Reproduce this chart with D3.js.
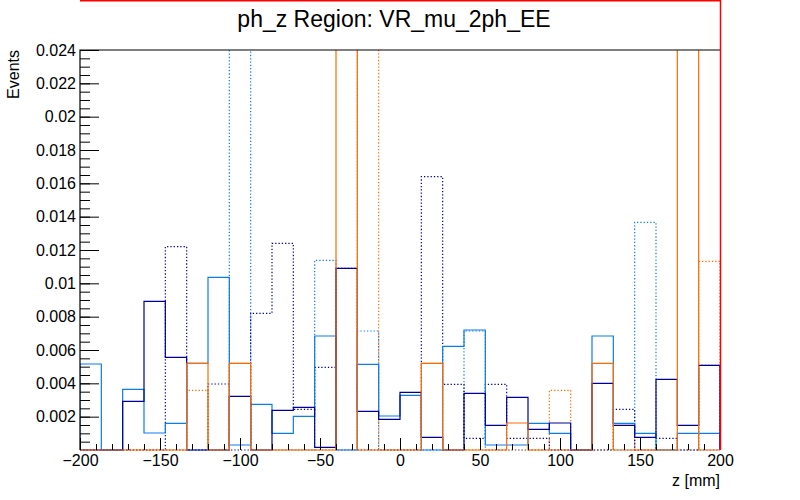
<!DOCTYPE html>
<html lang="en">
<head>
<meta charset="UTF-8">
<title>ph_z Region: VR_mu_2ph_EE</title>
<script src="https://d3js.org/d3.v7.min.js"></script>
<style>
  body { margin: 0; background: #fff; }
  text { font-family: "Liberation Sans", Arial, Helvetica, sans-serif; }
</style>
</head>
<body>
<div id="chart"></div>
<script>
// binning of the histograms: 30 bins from -200 to 200 mm
const xMin = -200, xMax = 200, nBins = 30;

// bin contents (0.03 = runs off the top of the frame)
const azureSolid  = [0.00516, 0, 0.00364, 0.00102, 0.0016, 0.0052, 0.01036, 0.0003, 0.00274, 0.001,
                     0.00202, 0.00684, 0, 0.00514, 0.00204, 0.00328, 0, 0.00622, 0.0072, 0.0003,
                     0.0003, 0.0016, 0.001, 0, 0.00684, 0.0016, 0.001, 0, 0.001, 0.001];
const azureDotted = [0, 0, 0, 0, 0, 0, 0, 0.03, 0, 0,
                     0, 0.01138, 0, 0.00714, 0, 0, 0, 0, 0.00714, 0,
                     0, 0, 0, 0, 0, 0, 0.01366, 0, 0, 0];
const navySolid   = [0, 0, 0.00292, 0.00892, 0.00556, 0, 0, 0.00322, 0, 0.00238,
                     0.00256, 0.00016, 0.0109, 0.00232, 0.00184, 0.00346, 0.00076, 0, 0.0034, 0.00148,
                     0.00316, 0.00124, 0.00162, 0, 0.004, 0.00148, 0.00076, 0.00424, 0.00148, 0.00508];
const navyDotted  = [0, 0, 0, 0, 0.0122, 0, 0.00396, 0, 0.0082, 0.0124,
                     0.00244, 0.00496, 0.0109, 0, 0, 0, 0.0164, 0.00394, 0.0007, 0.00394,
                     0.0007, 0.0007, 0, 0, 0, 0.00244, 0, 0.0007, 0, 0.00508];
const orangeSolid = [0, 0, 0, 0, 0, 0.0052, 0, 0.0052, 0, 0,
                     0, 0, 0.03, 0, 0, 0, 0.0052, 0, 0, 0,
                     0.00162, 0, 0, 0, 0.0052, 0, 0, 0, 0.03, 0];
const orangeDotted= [0, 0, 0, 0, 0, 0.00358, 0, 0.0052, 0, 0,
                     0, 0, 0, 0.03, 0, 0, 0.0052, 0, 0, 0,
                     0, 0, 0.00358, 0, 0, 0.00148, 0, 0, 0, 0.01132];

const yMajor = [0.002, 0.004, 0.006, 0.008, 0.01, 0.012, 0.014, 0.016, 0.018, 0.02, 0.022, 0.024];
const xMajor = [-200, -150, -100, -50, 0, 50, 100, 150, 200];

const width = 800, height = 500;
const padL = 80, padR = 720, padT = 50, padB = 450;

const svg = d3.select("#chart").append("svg")
  .attr("width", width).attr("height", height);

const x = d3.scaleLinear().domain([xMin, xMax]).range([padL, padR]);
const y = d3.scaleLinear().domain([0, 0.024]).range([padB, padT]);

const binW = (xMax - xMin) / nBins;

svg.append("clipPath").attr("id", "frame")
  .append("rect").attr("x", padL).attr("y", padT)
  .attr("width", padR - padL).attr("height", padB - padT + 1);

// step outline like ROOT "hist"
function stepPath(vals) {
  let d = "M" + x(xMin) + "," + y(0);
  vals.forEach((v, i) => {
    const x0 = x(xMin + i * binW), x1 = x(xMin + (i + 1) * binW);
    d += "L" + x0 + "," + y(v) + "L" + x1 + "," + y(v);
  });
  d += "L" + x(xMax) + "," + y(0);
  return d;
}

const series = [
  { vals: azureDotted,  color: "#0a7cf0", dash: "1.3,2" },
  { vals: navyDotted,   color: "#000099", dash: "1.3,2" },
  { vals: orangeDotted, color: "#ff6a00", dash: "1.3,2" },
  { vals: azureSolid,   color: "#0a7cf0", dash: null },
  { vals: navySolid,    color: "#000099", dash: null },
  { vals: orangeSolid,  color: "#ff6a00", dash: null }
];

const plot = svg.append("g").attr("clip-path", "url(#frame)");
series.forEach(s => {
  plot.append("path")
    .attr("d", stepPath(s.vals))
    .attr("fill", "none")
    .attr("stroke", s.color)
    .attr("stroke-width", 1.2)
    .attr("stroke-dasharray", s.dash);
});

// frame
svg.append("path")
  .attr("d", `M${padL},${padB}V${padT}H${padR}`)
  .attr("fill", "none").attr("stroke", "#000").attr("stroke-width", 1.2);

// y axis
const yMinor = d3.range(1, 49).map(i => i * 0.0005);
svg.append("g").attr("transform", `translate(${padL},0)`)
  .call(d3.axisLeft(y).tickValues(yMinor).tickSize(-10).tickFormat(""))
  .call(g => g.select(".domain").remove());
svg.append("g").attr("transform", `translate(${padL},0)`)
  .call(d3.axisLeft(y).tickValues(yMajor).tickSize(-19).tickPadding(4)
    .tickFormat(d => String(+d.toFixed(3))))
  .call(g => g.select(".domain").remove())
  .call(g => g.selectAll("text").attr("font-size", 16).attr("fill", "#000")
    .style("font-family", "'Liberation Sans', Arial, sans-serif"));

// x axis
const xMinor = d3.range(-190, 200, 10);
svg.append("g").attr("transform", `translate(0,${padB})`)
  .call(d3.axisBottom(x).tickValues(xMinor).tickSize(-6).tickFormat(""))
  .call(g => g.select(".domain").remove());
svg.append("g").attr("transform", `translate(0,${padB})`)
  .call(d3.axisBottom(x).tickValues(xMajor).tickSize(-12).tickPadding(5))
  .call(g => g.select(".domain").remove())
  .call(g => g.selectAll("text").attr("font-size", 16).attr("fill", "#000")
    .style("font-family", "'Liberation Sans', Arial, sans-serif"));
svg.selectAll(".tick line").attr("stroke", "#000");

// red border pieces
svg.append("path")
  .attr("d", `M${padL},0.75H${padR + 0.5}V${padB}`)
  .attr("fill", "none").attr("stroke", "#ff0000").attr("stroke-width", 1.5);

// titles
svg.append("text")
  .attr("x", 394).attr("y", 27)
  .attr("text-anchor", "middle").attr("font-size", 23)
  .text("ph_z Region: VR_mu_2ph_EE");

svg.append("text")
  .attr("transform", "translate(19,50) rotate(-90)")
  .attr("text-anchor", "end").attr("font-size", 16)
  .text("Events");

svg.append("text")
  .attr("x", 720).attr("y", 486)
  .attr("text-anchor", "end").attr("font-size", 16)
  .text("z [mm]");
</script>
</body>
</html>
